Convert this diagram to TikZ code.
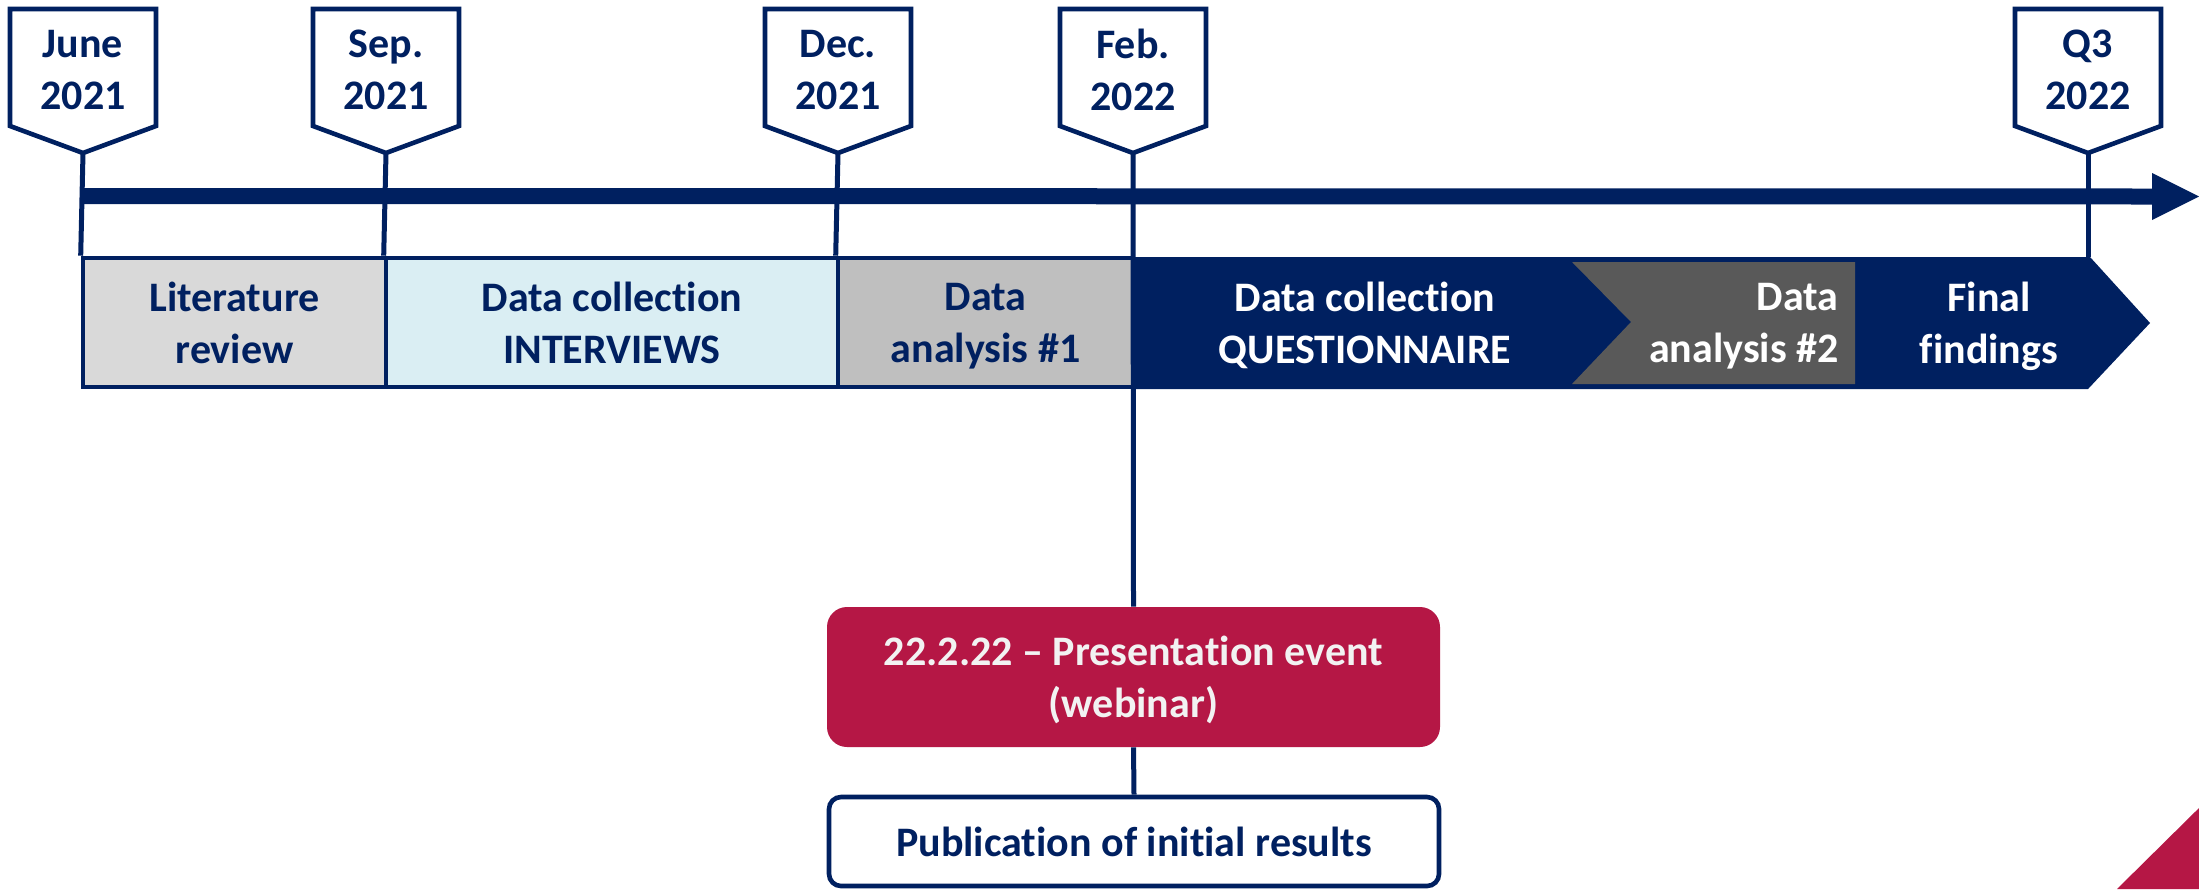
\documentclass[tikz,border=0pt]{standalone}
\usepackage{fontspec}
\setmainfont{Carlito}[Ligatures=NoCommon]
\definecolor{navy}{HTML}{002060}
\definecolor{lgray}{HTML}{D9D9D9}
\definecolor{lblue}{HTML}{DAEEF3}
\definecolor{mgray}{HTML}{BFBFBF}
\definecolor{dgray}{HTML}{595959}
\definecolor{evred}{HTML}{B51745}
\definecolor{offwhite}{HTML}{F2F2F2}
\begin{document}
\begin{tikzpicture}[x=0.5pt,y=-0.5pt,
  lbl/.style={font=\fontsize{21}{26}\selectfont\bfseries, align=center, text=navy, inner sep=0pt, text depth=0pt},
  tagbox/.style={draw=navy, line width=2.3pt, fill=white},
  barbox/.style={lbl, draw=navy, line width=2.3pt, minimum height=64.5pt},
  vline/.style={draw=navy, line width=2.5pt},
  evbox/.style={lbl, fill=evred, text=offwhite, rounded corners=10pt, minimum width=306.5pt, minimum height=70pt},
  pubbox/.style={lbl, draw=navy, line width=2.3pt, fill=white, rounded corners=6pt, minimum width=305pt, minimum height=44.5pt}
]
\useasboundingbox (0,0) rectangle (2199,889);
\fill[white] (0,0) rectangle (2199,889);

% phase bars
\node[barbox, fill=lgray, minimum width=151.5pt] (lit) at (234.5,322.5) {Literature\\review};
\node[barbox, fill=lblue, minimum width=226pt] (int) at (612,322.5) {Data collection\\INTERVIEWS};
\node[barbox, fill=mgray, minimum width=147.5pt] (daone) at (985.5,322.5) {Data\\analysis \#1};

% navy arrow region
\fill[navy] (1133,257) -- (2090,257) -- (2150,323) -- (2088,389) -- (1133,389) -- cycle;
\fill[dgray] (1572,262) -- (1855,262) -- (1855,384) -- (1572,384) -- (1631,322) -- cycle;
\coordinate (qtop) at (2088,257);
\node[lbl, text=white] (qst) at (1365,322.5) {Data collection\\QUESTIONNAIRE};
\node[lbl, text=white, align=right, anchor=east] (datwo) at (1839,322.5) {Data\\analysis \#2};
\node[lbl, text=white] (fin) at (1989,322.5) {Final\\findings};

% tags
\foreach \n/\x/\t in {june/83/{June\\2021}, sep/386/{Sep.\\2021}, dec/838/{Dec.\\2021}, feb/1133/{Feb.\\2022}, qthree/2088/{Q3\\2022}}{
  \draw[tagbox] ({\x-73},9) -- ({\x+73},9) -- ({\x+73},126) -- (\x,153) -- ({\x-73},126) -- cycle;
  \node[lbl] (t\n) at (\x,70) {\t};
  \coordinate (p\n) at (\x,153);
}

% event boxes
\node[evbox] (ev) at (1133.5,677) {22.2.22 -- Presentation event\\(webinar)};
\node[pubbox] (pub) at (1134,841.5) {Publication of initial results};

% connectors
\draw[vline] (pjune) -- (lit.north west);
\draw[vline] (psep) -- (int.north west);
\draw[vline] (pdec) -- (daone.north west);
\draw[vline] (pfeb) -- (ev.north);
\draw[vline] (ev.south) -- (pub.north);
\draw[vline] (pqthree) -- (qtop);

% main time arrow
\coordinate (axs) at (82,196);
\coordinate (axe) at (2199,196.5);
\draw[navy, line width=8pt] (axs) -- (2152,196.5);
\fill[navy] (2152,173) -- (axe) -- (2152,220) -- cycle;

% corner decoration
\fill[evred] (2117,889) -- (2199,808) -- (2199,889) -- cycle;
\end{tikzpicture}
\end{document}
